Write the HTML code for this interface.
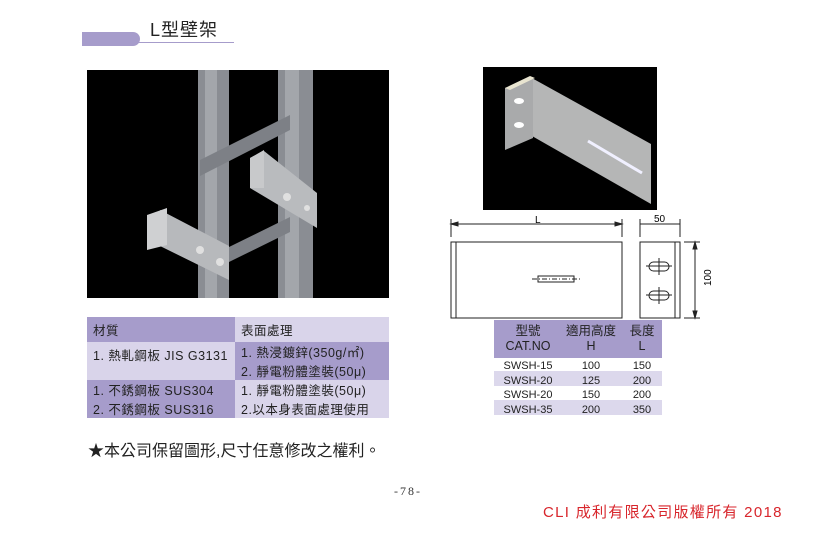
<!DOCTYPE html>
<html><head><meta charset="utf-8"><style>
body{margin:0;width:816px;height:551px;background:#fff;position:relative;overflow:hidden;font-family:"Liberation Sans","Noto Sans CJK TC",sans-serif;}
.a{position:absolute;}
.t td{padding:0 0 0 6px;font-size:12.5px;color:#222;letter-spacing:0.5px;}
</style></head><body>
<div class="a" style="left:82px;top:32px;width:58px;height:14px;background:#a69ccb;border-radius:0 8px 8px 0"></div>
<div class="a" style="left:138px;top:42px;width:96px;height:1px;background:#a69ccb"></div>
<div class="a" style="left:150px;top:16px;font-size:18px;color:#222;letter-spacing:1px">L型壁架</div>

<svg class="a" style="left:87px;top:70px" width="302" height="228" viewBox="0 0 302 228">
<rect width="302" height="228" fill="#000"/>
<rect x="111" y="0" width="31" height="228" fill="#8a8d93"/>
<rect x="118" y="0" width="12" height="228" fill="#a3a6ab"/>
<rect x="191" y="0" width="35" height="228" fill="#8a8d93"/>
<rect x="198" y="0" width="14" height="228" fill="#a3a6ab"/>
<polygon points="113,90 203,45 203,60 113,106" fill="#7d8086"/>
<polygon points="142,177 203,147 203,162 142,192" fill="#7d8086"/>
<polygon points="177,81 230,123 230,158 163,118 163,88" fill="#b9bbbe"/>
<polygon points="163,88 177,80 177,118 163,118" fill="#c8c9cb"/>
<polygon points="73,140 142,176 142,210 73,176" fill="#b7b9bc"/>
<polygon points="60,145 80,138 80,175 60,180" fill="#cfd0d2"/>
<circle cx="113" cy="180" r="4" fill="#e0e0e0"/><circle cx="133" cy="192" r="4" fill="#e0e0e0"/>
<circle cx="200" cy="127" r="4" fill="#e0e0e0"/><circle cx="220" cy="138" r="3" fill="#e0e0e0"/>
</svg>

<svg class="a" style="left:483px;top:67px" width="174" height="143" viewBox="483 67 174 143">
<rect x="483" y="67" width="174" height="143" fill="#000"/>
<polygon points="530,77 651,144 651,204 532,136" fill="#b5b6b6"/>
<polygon points="505,88 533,77 533,138 505,150" fill="#a9aaab"/>
<polygon points="505,88 530,76 535,78 510,90" fill="#e8e4d0"/>
<line x1="588" y1="141" x2="642" y2="173" stroke="#f0f0ff" stroke-width="3"/>
<ellipse cx="519" cy="101" rx="5" ry="3" fill="#fff"/><ellipse cx="519" cy="125" rx="5" ry="3" fill="#fff"/>
</svg>

<svg class="a" style="left:440px;top:210px" width="280" height="115" viewBox="440 210 280 115">
<g stroke="#222" fill="none" stroke-width="1">
<line x1="451" y1="224" x2="622" y2="224"/><line x1="451" y1="219" x2="451" y2="237"/><line x1="622" y1="219" x2="622" y2="237"/>
<polygon points="451,224 458,222 458,226" fill="#222"/><polygon points="622,224 615,222 615,226" fill="#222"/>
<rect x="451" y="242" width="171" height="76"/><line x1="456" y1="242" x2="456" y2="318"/>
<rect x="538" y="276" width="36" height="6"/>
<line x1="532" y1="279" x2="580" y2="279" stroke-dasharray="5,2,1,2"/>
<line x1="640" y1="224" x2="680" y2="224"/><line x1="640" y1="219" x2="640" y2="237"/><line x1="680" y1="219" x2="680" y2="237"/>
<rect x="640" y="242" width="40" height="76"/><line x1="675" y1="242" x2="675" y2="318"/>
<rect x="649" y="262" width="20" height="9" rx="4.5"/><rect x="649" y="291" width="20" height="9" rx="4.5"/>
<line x1="646" y1="266" x2="672" y2="266"/><line x1="659" y1="258" x2="659" y2="275"/>
<line x1="646" y1="295" x2="672" y2="295"/><line x1="659" y1="287" x2="659" y2="304"/>
<line x1="684" y1="242" x2="700" y2="242"/><line x1="684" y1="318" x2="700" y2="318"/><line x1="695" y1="242" x2="695" y2="318"/>
<polygon points="695,242 693,249 697,249" fill="#222"/><polygon points="695,318 693,311 697,311" fill="#222"/>
</g>
<text x="535" y="223" font-size="10" font-family="Liberation Sans">L</text>
<text x="654" y="222" font-size="10" font-family="Liberation Sans">50</text>
<text x="711" y="286" font-size="10" font-family="Liberation Sans" transform="rotate(-90 711 286)">100</text>
</svg>

<table class="a t" style="left:87px;top:317px;width:302px;border-collapse:collapse">
<tr style="height:25px"><td style="background:#a69ccb;width:142px">材質</td><td style="background:#d9d4ea">表面處理</td></tr>
<tr style="height:19px"><td style="background:#d9d4ea" rowspan="2" valign="top"><div style="padding-top:3px">1. 熱軋鋼板 JIS G3131</div></td><td style="background:#a69ccb">1. 熱浸鍍鋅(350g/㎡)</td></tr>
<tr style="height:19px"><td style="background:#a69ccb">2. 靜電粉體塗裝(50μ)</td></tr>
<tr style="height:19px"><td style="background:#a69ccb">1. 不銹鋼板 SUS304</td><td style="background:#d9d4ea">1. 靜電粉體塗裝(50μ)</td></tr>
<tr style="height:19px"><td style="background:#a69ccb">2. 不銹鋼板 SUS316</td><td style="background:#d9d4ea">2.以本身表面處理使用</td></tr>
</table>

<div class="a" style="left:494px;top:320px;width:168px;height:38px;background:#a69ccb"></div>
<div class="a" style="left:494px;top:371px;width:168px;height:15px;background:#dcd8ec"></div>
<div class="a" style="left:494px;top:400px;width:168px;height:15px;background:#dcd8ec"></div>
<div class="a" style="font-size:12.5px;color:#222;left:494px;top:324px;width:168px;line-height:15px">
<div class="a" style="left:4px;width:60px;text-align:center">型號<br>CAT.NO</div>
<div class="a" style="left:66px;width:62px;text-align:center">適用高度<br>H</div>
<div class="a" style="left:130px;width:36px;text-align:center">長度<br>L</div>
</div>
<div class="a" style="font-size:11px;color:#222;left:494px;top:359px;width:168px;line-height:14.5px">
<div class="a" style="left:4px;width:60px;text-align:center">SWSH-15<br>SWSH-20<br>SWSH-20<br>SWSH-35</div>
<div class="a" style="left:66px;width:62px;text-align:center">100<br>125<br>150<br>200</div>
<div class="a" style="left:130px;width:36px;text-align:center">150<br>200<br>200<br>350</div>
</div>

<div class="a" style="left:88px;top:437px;font-size:16px;color:#222">★本公司保留圖形,尺寸任意修改之權利。</div>
<div class="a" style="left:394px;top:484px;font-size:12px;color:#333;letter-spacing:2px;font-family:'Liberation Serif',serif">-78-</div>
<div class="a" style="left:543px;top:501px;font-size:15px;color:#d8262c;letter-spacing:1.3px">CLI 成利有限公司版權所有 2018</div>
</body></html>
